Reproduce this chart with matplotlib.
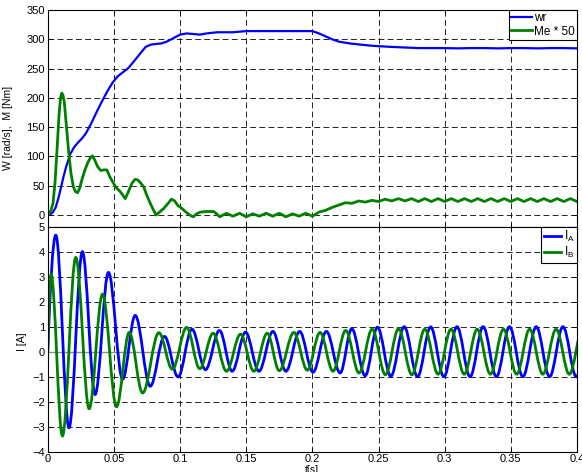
import matplotlib
matplotlib.use("Agg")
import matplotlib.pyplot as plt
from matplotlib.path import Path
from matplotlib.patches import PathPatch

plt.rcParams['font.family'] = ['Liberation Sans', 'DejaVu Sans']

# ---- data ----
# speed wr [rad/s]
t_wr = [0, 0.002, 0.004, 0.006, 0.008, 0.010, 0.012, 0.014, 0.017, 0.020,
        0.023, 0.026, 0.029, 0.033, 0.037, 0.041, 0.045, 0.049, 0.053, 0.057,
        0.061, 0.065, 0.070, 0.074, 0.078, 0.082, 0.086, 0.090, 0.095, 0.100,
        0.105, 0.110, 0.115, 0.120, 0.128, 0.135, 0.140, 0.150, 0.160, 0.170,
        0.180, 0.190, 0.200, 0.205, 0.210, 0.215, 0.220, 0.228, 0.236, 0.245,
        0.252, 0.260, 0.270, 0.280, 0.290, 0.300, 0.310, 0.320, 0.330, 0.340,
        0.350, 0.360, 0.370, 0.380, 0.390, 0.400]
wr = [0, 1, 5, 13, 28, 47, 66, 83, 104, 116,
      124, 131, 140, 157, 176, 194, 211, 226, 237, 244,
      251, 262, 276, 287, 291, 292, 293, 296, 302, 308,
      310, 309, 308, 310, 312, 312, 312, 314, 314, 314,
      314, 314, 314, 310, 305, 300, 296, 293, 291, 289,
      288, 287, 286, 285, 285, 285, 284.5, 285, 285, 284.5,
      285, 285, 284.5, 285, 285, 284.5]

# torque Me * 50
t_me = [0, 0.002, 0.004, 0.0055, 0.007, 0.0085, 0.0097, 0.0106, 0.0115, 0.0125,
        0.014, 0.0157, 0.0175, 0.0194, 0.021, 0.0225, 0.024, 0.0258, 0.028, 0.030,
        0.032, 0.0338, 0.0355, 0.0376, 0.040, 0.0425, 0.0447, 0.047, 0.0497, 0.052,
        0.0548, 0.057, 0.0586, 0.061, 0.0636, 0.066, 0.068, 0.0705, 0.0725, 0.075,
        0.0775, 0.080, 0.082, 0.085, 0.0876, 0.091, 0.0935, 0.096, 0.098, 0.1015,
        0.105, 0.108, 0.110, 0.1125, 0.1154, 0.120, 0.1255, 0.130, 0.135, 0.140,
        0.145, 0.150, 0.155, 0.160, 0.165, 0.170, 0.175, 0.180, 0.185, 0.190,
        0.195, 0.200, 0.205, 0.210, 0.215, 0.220, 0.225, 0.230, 0.235, 0.240,
        0.245, 0.250, 0.255, 0.260, 0.265, 0.270, 0.275, 0.280, 0.285, 0.290,
        0.295, 0.300, 0.305, 0.310, 0.315, 0.320, 0.325, 0.330, 0.335, 0.340,
        0.345, 0.350, 0.355, 0.360, 0.365, 0.370, 0.375, 0.380, 0.385, 0.390,
        0.395, 0.400]
me50 = [0, 5, 20, 55, 110, 170, 200, 208, 205, 193,
        155, 111, 72, 48, 40, 38, 45, 60, 76, 88,
        97, 101, 94, 83, 76, 77, 77, 65, 54, 46,
        40, 33, 28, 40, 54, 61, 60, 54, 48, 33,
        20, 8, 0, 6, 11, 20, 27, 24, 17, 11,
        4, -1, -3, 2, 5, 6, 6, -3, 3, -2,
        3, -3, 2, -2, 3, -2, 3, -3, 2, -2,
        3, -2, 5, 8, 13, 17, 21, 20, 24, 22,
        25, 23, 27, 24, 28, 24, 28, 23, 28, 23,
        28, 23, 28, 23, 28, 23, 28, 23, 28, 23,
        28, 23, 28, 23, 28, 23, 28, 23, 28, 23,
        28, 23]

# phase currents: start point, then successive peaks / troughs
t_ia = [0, 0.0061, 0.0161, 0.0262, 0.0358, 0.0459, 0.0566, 0.0661, 0.0775, 0.0882,
        0.0985, 0.1090, 0.1192, 0.1298, 0.1394, 0.1495, 0.1596, 0.1702, 0.1800, 0.1904,
        0.2005, 0.2106, 0.2210, 0.2298, 0.2399, 0.2492, 0.2593, 0.2694, 0.2795, 0.2894,
        0.2994, 0.3093, 0.3192, 0.3291, 0.3391, 0.3490, 0.3591, 0.3692, 0.3793, 0.3894,
        0.3995, 0.4095]
ia = [0, 4.66, -3.04, 4.0, -1.71, 3.17, -1.1, 1.45, -1.38, 0.61,
      -1.01, 0.9, -0.72, 0.85, -0.78, 0.78, -0.78, 0.81, -0.78, 0.81,
      -0.82, 0.81, -0.85, 0.92, -0.96, 0.98, -0.98, 1.0, -1.0, 0.99,
      -1.0, 1.0, -1.0, 1.0, -1.0, 1.0, -1.0, 1.0, -1.0, 1.0,
      -1.0, 1.0]

t_ib = [0, 0.0025, 0.0111, 0.0212, 0.0313, 0.0414, 0.0520, 0.0616, 0.0717, 0.0840,
        0.0942, 0.1050, 0.1149, 0.1250, 0.1351, 0.1457, 0.1558, 0.1659, 0.1750, 0.1860,
        0.1962, 0.2058, 0.2156, 0.2252, 0.2353, 0.2452, 0.2552, 0.2652, 0.2752, 0.2850,
        0.2950, 0.3048, 0.3148, 0.3246, 0.3346, 0.3444, 0.3544, 0.3642, 0.3742, 0.3842,
        0.3942, 0.4042]
ib = [0, 3.09, -3.37, 3.77, -2.28, 2.3, -2.2, 0.77, -1.65, 0.76,
      -0.7, 0.97, -0.68, 0.74, -0.78, 0.7, -0.78, 0.74, -0.76, 0.77,
      -0.74, 0.77, -0.78, 0.85, -0.85, 0.9, -0.92, 0.92, -0.92, 0.9,
      -0.9, 0.9, -0.9, 0.9, -0.9, 0.9, -0.9, 0.9, -0.9, 0.9,
      -0.9, 0.9]

x_ticks = [0, 0.05, 0.1, 0.15, 0.2, 0.25, 0.3, 0.35, 0.4]
x_ticklabels = ['0', '0.05', '0.1', '0.15', '0.2', '0.25', '0.3', '0.35', '0.4']
top_yticks = [0, 50, 100, 150, 200, 250, 300, 350]
bot_yticks = [-4, -3, -2, -1, 0, 1, 2, 3, 4, 5]

BLUE = (0, 0, 1)
GREEN = (0, 0.5, 0)


def smooth_path(ts, vs):
    # cubic segments with flat tangents at every peak / trough
    verts = [(ts[0], vs[0])]
    codes = [Path.MOVETO]
    for i in range(len(ts) - 1):
        t0, v0, t1, v1 = ts[i], vs[i], ts[i + 1], vs[i + 1]
        dt = t1 - t0
        if i == 0:
            c1 = (t0 + 0.3 * dt, v0 + 0.55 * (v1 - v0))
        else:
            c1 = (t0 + 0.36 * dt, v0)
        c2 = (t1 - 0.36 * dt, v1)
        verts += [c1, c2, (t1, v1)]
        codes += [Path.CURVE4] * 3
    return Path(verts, codes)


def style(ax):
    ax.grid(True, color='k', linestyle=(0, (7, 4)), linewidth=0.6)
    ax.tick_params(direction='in', top=True, right=True, length=3,
                   width=0.6, pad=2, labelsize=8)
    for s in ax.spines.values():
        s.set_linewidth(0.8)
    ax.set_xlim(0, 0.4)
    ax.set_xticks(x_ticks)


fig = plt.figure(figsize=(5.82, 4.72), dpi=100)
ax1 = fig.add_axes([0.082, 0.5184, 0.9094, 0.4604])
ax2 = fig.add_axes([0.082, 0.043, 0.9094, 0.4767])

# top: speed and torque
ax1.plot(t_wr, wr, color=BLUE, lw=1.6, label='wr')
ax1.plot(t_me, me50, color=GREEN, lw=2.0, label='Me * 50')
style(ax1)
ax1.set_ylim(-21, 350)
ax1.set_yticks(top_yticks)
ax1.set_xticklabels([])
ax1.set_ylabel('W [rad/s],  M [Nm]', fontsize=7.5)
ax1.yaxis.set_label_coords(-0.066, 0.457)
leg1 = ax1.legend(loc='upper right', fontsize=8.5, fancybox=False, edgecolor='k',
                  framealpha=1, borderaxespad=0, handlelength=1.7,
                  handletextpad=0.2, borderpad=0.2, labelspacing=0.1)
leg1.get_frame().set_linewidth(0.8)

# bottom: currents
ax2.axhline(0, color='0.55', lw=1.0, zorder=1.6)
ax2.add_patch(PathPatch(smooth_path(t_ia, ia), facecolor='none',
                        edgecolor=BLUE, lw=2.0, zorder=2.2))
ax2.add_patch(PathPatch(smooth_path(t_ib, ib), facecolor='none',
                        edgecolor=GREEN, lw=2.0, zorder=2.3))
ax2.plot([], [], color=BLUE, lw=2.0, label=r'$\mathregular{I_A}$')
ax2.plot([], [], color=GREEN, lw=2.0, label=r'$\mathregular{I_B}$')
style(ax2)
ax2.set_ylim(-4, 5)
ax2.set_yticks(bot_yticks)
ax2.set_xticklabels(x_ticklabels)
ax2.set_ylabel('I [A]', fontsize=7.5)
ax2.yaxis.set_label_coords(-0.039, 0.488)
ax2.set_xlabel('t[s]', fontsize=7.5)
ax2.xaxis.set_label_coords(0.5, -0.058)
leg2 = ax2.legend(loc='upper right', fontsize=8.5, fancybox=False, edgecolor='k',
                  framealpha=1, borderaxespad=0, handlelength=1.5,
                  handletextpad=0.2, borderpad=0.2, labelspacing=0.1)
leg2.get_frame().set_linewidth(0.8)

fig.savefig('out.png', dpi=100)
